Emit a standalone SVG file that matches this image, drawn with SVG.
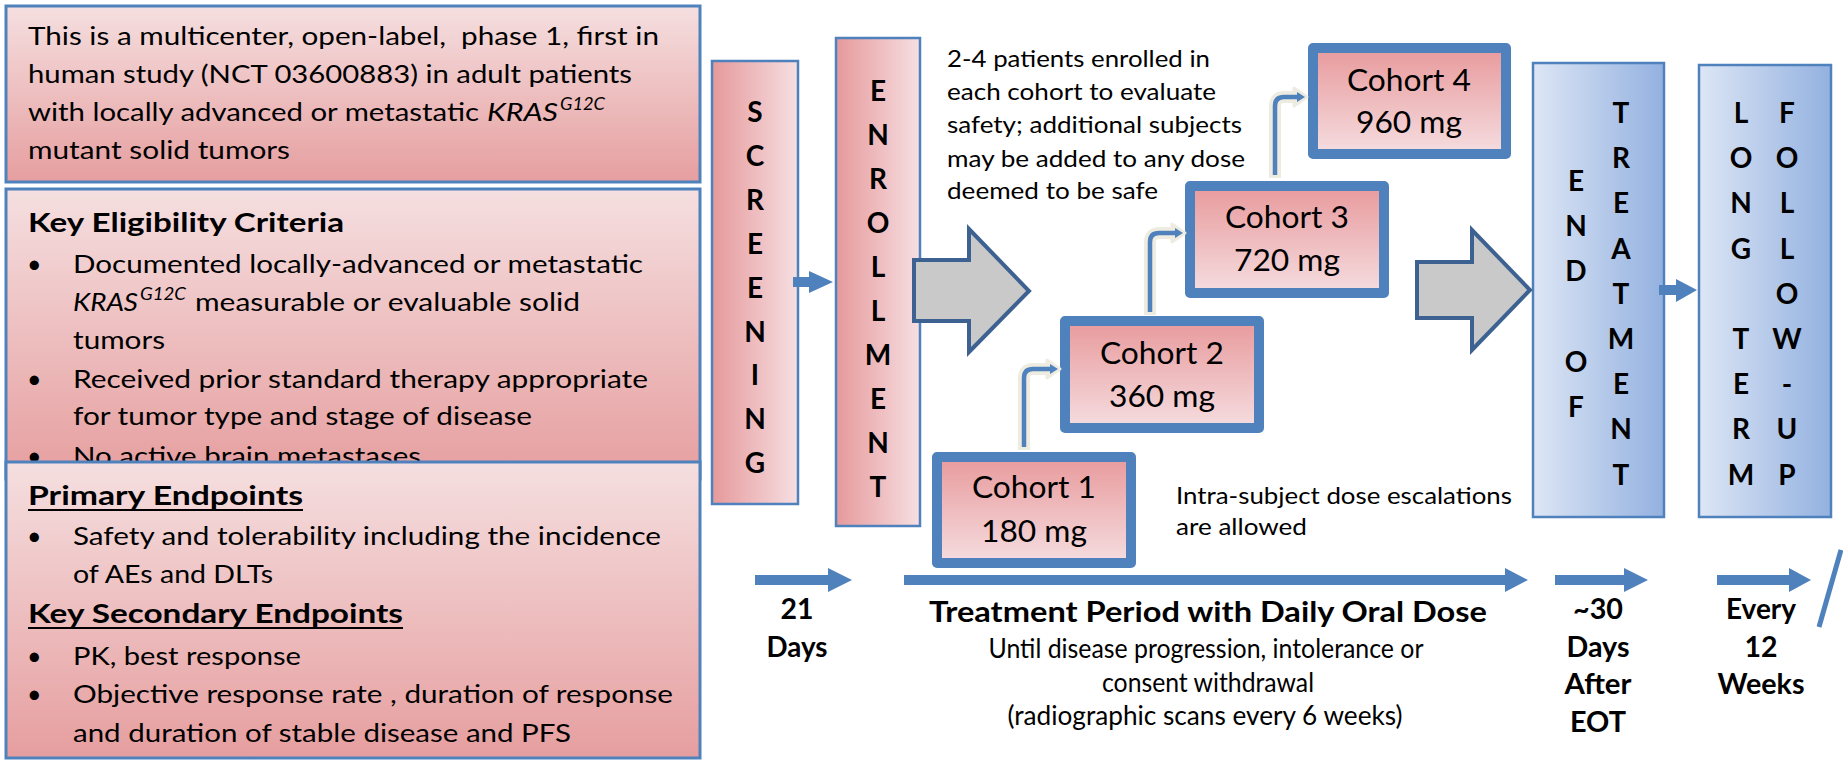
<svg xmlns="http://www.w3.org/2000/svg" width="1843" height="761" viewBox="0 0 1843 761">
<defs>
<linearGradient id="gPinkV" x1="0" y1="0" x2="0" y2="1"><stop offset="0" stop-color="#f5dfe0"/><stop offset="1" stop-color="#e69e9f"/></linearGradient>
<linearGradient id="gPinkVr" x1="0" y1="0" x2="0" y2="1"><stop offset="0" stop-color="#e89a9c"/><stop offset="1" stop-color="#f5dde0"/></linearGradient>
<linearGradient id="gPinkH" x1="0" y1="0" x2="1" y2="0"><stop offset="0" stop-color="#e6999b"/><stop offset="1" stop-color="#f6dfe2"/></linearGradient>
<linearGradient id="gBlueH" x1="0" y1="0" x2="1" y2="0"><stop offset="0" stop-color="#dde6f5"/><stop offset="1" stop-color="#93b1e0"/></linearGradient>
</defs>
<style>
.t{font-family:Lato,"Open Sans","Liberation Sans",sans-serif;fill:#000}
.r{font-size:25px}
.rs{font-size:24px}
.b{font-weight:700}
.h{font-size:27px;font-weight:700}
.hb{font-size:29px;font-weight:700;text-anchor:middle}
.lt{font-size:28px;font-weight:700;text-anchor:middle}
.mid{text-anchor:middle}
.box{stroke:#4f81bd;stroke-width:3}
.col{stroke:#4f81bd;stroke-width:2.5}
.coh{fill:url(#gPinkVr);stroke:#4f81bd;stroke-width:10;stroke-linejoin:round}
.ct{font-size:30px;text-anchor:middle}
.gray{fill:#c9c9c9;stroke:#3d6291;stroke-width:4;stroke-linejoin:miter}
.blue{fill:#4f81bd}
.halo{fill:none;stroke:#eeece1;stroke-width:12}
.haloh{fill:#eeece1;stroke:#eeece1;stroke-width:3;stroke-linejoin:round}
.bl{fill:none;stroke:#4f81bd;stroke-width:4.5}
.ul{stroke:#000;stroke-width:2}
.sup{font-size:18px;font-style:italic}
.it{font-style:italic}
</style>

<g id="box-intro">
<rect x="6" y="6" width="694" height="176" fill="url(#gPinkV)" class="box"/>
<text class="t r" x="28" y="45" textLength="631" lengthAdjust="spacingAndGlyphs">This is a multicenter, open-label,&#160; phase 1, first in</text>
<text class="t r" x="28" y="83" textLength="604" lengthAdjust="spacingAndGlyphs">human study (NCT 03600883) in adult patients</text>
<text class="t r" x="28" y="121" textLength="451" lengthAdjust="spacingAndGlyphs">with locally advanced or metastatic</text>
<text class="t r it" x="487" y="121" textLength="71" lengthAdjust="spacingAndGlyphs">KRAS</text>
<text class="t sup" x="560" y="110" textLength="45" lengthAdjust="spacingAndGlyphs">G12C</text>
<text class="t r" x="28" y="159" textLength="262" lengthAdjust="spacingAndGlyphs">mutant solid tumors</text>
</g>

<g id="box-eligibility">
<rect x="6" y="189" width="694" height="290" fill="url(#gPinkV)" class="box"/>
<text class="t h" x="28" y="232" textLength="316" lengthAdjust="spacingAndGlyphs">Key Eligibility Criteria</text>
<text class="t r" x="27" y="273">•</text>
<text class="t r" x="73" y="273" textLength="570" lengthAdjust="spacingAndGlyphs">Documented locally-advanced or metastatic</text>
<text class="t r it" x="73" y="311" textLength="65" lengthAdjust="spacingAndGlyphs">KRAS</text>
<text class="t sup" x="140" y="300" textLength="46" lengthAdjust="spacingAndGlyphs">G12C</text>
<text class="t r" x="195" y="311" textLength="385" lengthAdjust="spacingAndGlyphs">measurable or evaluable solid</text>
<text class="t r" x="73" y="349" textLength="92" lengthAdjust="spacingAndGlyphs">tumors</text>
<text class="t r" x="27" y="388">•</text>
<text class="t r" x="73" y="388" textLength="575" lengthAdjust="spacingAndGlyphs">Received prior standard therapy appropriate</text>
<text class="t r" x="73" y="425" textLength="459" lengthAdjust="spacingAndGlyphs">for tumor type and stage of disease</text>
<text class="t r" x="27" y="465">•</text>
<text class="t r" x="73" y="465" textLength="348" lengthAdjust="spacingAndGlyphs">No active brain metastases</text>
</g>

<g id="box-endpoints">
<rect x="6" y="462" width="694" height="296" fill="url(#gPinkV)" class="box"/>
<text class="t h" x="28" y="505" textLength="275" lengthAdjust="spacingAndGlyphs">Primary Endpoints</text>
<line x1="28" y1="510" x2="303" y2="510" class="ul"/>
<text class="t r" x="27" y="545">•</text>
<text class="t r" x="73" y="545" textLength="588" lengthAdjust="spacingAndGlyphs">Safety and tolerability including the incidence</text>
<text class="t r" x="73" y="583" textLength="200" lengthAdjust="spacingAndGlyphs">of AEs and DLTs</text>
<text class="t h" x="28" y="623" textLength="375" lengthAdjust="spacingAndGlyphs">Key Secondary Endpoints</text>
<line x1="28" y1="628" x2="403" y2="628" class="ul"/>
<text class="t r" x="27" y="665">•</text>
<text class="t r" x="73" y="665" textLength="228" lengthAdjust="spacingAndGlyphs">PK, best response</text>
<text class="t r" x="27" y="703">•</text>
<text class="t r" x="73" y="703" textLength="600" lengthAdjust="spacingAndGlyphs">Objective response rate , duration of response</text>
<text class="t r" x="73" y="742" textLength="498" lengthAdjust="spacingAndGlyphs">and duration of stable disease and PFS</text>
</g>

<g id="screening">
<rect x="712" y="61" width="86" height="443" fill="url(#gPinkH)" class="col"/>
<text class="t lt" x="755" y="122">S</text>
<text class="t lt" x="755" y="166">C</text>
<text class="t lt" x="755" y="210">R</text>
<text class="t lt" x="755" y="254">E</text>
<text class="t lt" x="755" y="298">E</text>
<text class="t lt" x="755" y="342">N</text>
<text class="t lt" x="755" y="385">I</text>
<text class="t lt" x="755" y="429">N</text>
<text class="t lt" x="755" y="473">G</text>
</g>

<g id="enrollment">
<rect x="836" y="38" width="84" height="488" fill="url(#gPinkH)" class="col"/>
<text class="t lt" x="878" y="101">E</text>
<text class="t lt" x="878" y="145">N</text>
<text class="t lt" x="878" y="189">R</text>
<text class="t lt" x="878" y="233">O</text>
<text class="t lt" x="878" y="277">L</text>
<text class="t lt" x="878" y="321">L</text>
<text class="t lt" x="878" y="365">M</text>
<text class="t lt" x="878" y="409">E</text>
<text class="t lt" x="878" y="453">N</text>
<text class="t lt" x="878" y="497">T</text>
</g>

<g id="cohort1">
<rect x="937" y="457" width="194" height="106" class="coh"/>
<text class="t ct" x="1034" y="498" textLength="124" lengthAdjust="spacingAndGlyphs">Cohort 1</text>
<text class="t ct" x="1034" y="542" textLength="106" lengthAdjust="spacingAndGlyphs">180 mg</text>
</g>
<g id="cohort2">
<rect x="1065" y="321" width="194" height="107" class="coh"/>
<text class="t ct" x="1162" y="364" textLength="124" lengthAdjust="spacingAndGlyphs">Cohort 2</text>
<text class="t ct" x="1162" y="407" textLength="106" lengthAdjust="spacingAndGlyphs">360 mg</text>
</g>
<g id="cohort3">
<rect x="1190" y="186" width="194" height="107" class="coh"/>
<text class="t ct" x="1287" y="228" textLength="124" lengthAdjust="spacingAndGlyphs">Cohort 3</text>
<text class="t ct" x="1287" y="271" textLength="106" lengthAdjust="spacingAndGlyphs">720 mg</text>
</g>
<g id="cohort4">
<rect x="1313" y="48" width="193" height="106" class="coh"/>
<text class="t ct" x="1409" y="91" textLength="124" lengthAdjust="spacingAndGlyphs">Cohort 4</text>
<text class="t ct" x="1409" y="133" textLength="106" lengthAdjust="spacingAndGlyphs">960 mg</text>
</g>

<g id="end-of-treatment">
<rect x="1533" y="63" width="131" height="454" fill="url(#gBlueH)" class="col"/>
<text class="t lt" x="1576" y="191">E</text>
<text class="t lt" x="1576" y="236">N</text>
<text class="t lt" x="1576" y="281">D</text>
<text class="t lt" x="1576" y="372">O</text>
<text class="t lt" x="1576" y="417">F</text>
<text class="t lt" x="1621" y="123">T</text>
<text class="t lt" x="1621" y="168">R</text>
<text class="t lt" x="1621" y="213">E</text>
<text class="t lt" x="1621" y="259">A</text>
<text class="t lt" x="1621" y="304">T</text>
<text class="t lt" x="1621" y="349">M</text>
<text class="t lt" x="1621" y="394">E</text>
<text class="t lt" x="1621" y="439">N</text>
<text class="t lt" x="1621" y="485">T</text>
</g>

<g id="long-term-follow-up">
<rect x="1699" y="65" width="132" height="452" fill="url(#gBlueH)" class="col"/>
<text class="t lt" x="1741" y="123">L</text>
<text class="t lt" x="1741" y="168">O</text>
<text class="t lt" x="1741" y="213">N</text>
<text class="t lt" x="1741" y="259">G</text>
<text class="t lt" x="1741" y="349">T</text>
<text class="t lt" x="1741" y="394">E</text>
<text class="t lt" x="1741" y="439">R</text>
<text class="t lt" x="1741" y="485">M</text>
<text class="t lt" x="1787" y="123">F</text>
<text class="t lt" x="1787" y="168">O</text>
<text class="t lt" x="1787" y="213">L</text>
<text class="t lt" x="1787" y="259">L</text>
<text class="t lt" x="1787" y="304">O</text>
<text class="t lt" x="1787" y="349">W</text>
<text class="t lt" x="1787" y="394">-</text>
<text class="t lt" x="1787" y="439">U</text>
<text class="t lt" x="1787" y="485">P</text>
</g>

<g id="connectors">
<polygon class="blue" points="793,277 809,277 809,271 833,282 809,293 809,287 793,287"/>
<polygon class="gray" points="914,260 969,260 969,229 1029,291 969,352 969,321 914,321"/>
<polygon class="gray" points="1417,262 1472,262 1472,230 1530,290 1472,350 1472,318 1417,318"/>
<polygon class="blue" points="1659,285 1676,285 1676,279 1697,290 1676,302 1676,295 1659,295"/>

<path class="halo" d="M1024,450 V378 Q1024,369 1033,369 H1050"/>
<polygon class="haloh" points="1047,360 1060,369 1047,378"/>
<path class="bl" d="M1024,447 V378 Q1024,369 1033,369 H1052"/>
<polygon class="blue" points="1050,364 1058,369 1050,374"/>

<path class="halo" d="M1150,315 V242 Q1150,233 1159,233 H1175"/>
<polygon class="haloh" points="1172,224 1185,233 1172,242"/>
<path class="bl" d="M1150,312 V242 Q1150,233 1159,233 H1177"/>
<polygon class="blue" points="1175,228 1183,233 1175,238"/>

<path class="halo" d="M1275,178 V106 Q1275,97 1284,97 H1297"/>
<polygon class="haloh" points="1294,88 1307,97 1294,106"/>
<path class="bl" d="M1275,175 V106 Q1275,97 1284,97 H1299"/>
<polygon class="blue" points="1297,92 1305,97 1297,102"/>

<polygon class="blue" points="755,575 828,575 828,568 852,580 828,592 828,585 755,585"/>
<polygon class="blue" points="904,575 1505,575 1505,568 1528,580 1505,592 1505,585 904,585"/>
<polygon class="blue" points="1555,575 1624,575 1624,568 1648,580 1624,592 1624,585 1555,585"/>
<polygon class="blue" points="1717,575 1789,575 1789,568 1811,580 1789,592 1789,585 1717,585"/>
<line x1="1841" y1="550" x2="1819" y2="627" stroke="#4f81bd" stroke-width="5"/>
</g>

<g id="notes">
<text class="t rs" x="947" y="67" textLength="263" lengthAdjust="spacingAndGlyphs">2-4 patients enrolled in</text>
<text class="t rs" x="947" y="100" textLength="269" lengthAdjust="spacingAndGlyphs">each cohort to evaluate</text>
<text class="t rs" x="947" y="133" textLength="295" lengthAdjust="spacingAndGlyphs">safety; additional subjects</text>
<text class="t rs" x="947" y="167" textLength="298" lengthAdjust="spacingAndGlyphs">may be added to any dose</text>
<text class="t rs" x="947" y="199" textLength="211" lengthAdjust="spacingAndGlyphs">deemed to be safe</text>
<text class="t rs" x="1176" y="504" textLength="336" lengthAdjust="spacingAndGlyphs">Intra-subject dose escalations</text>
<text class="t rs" x="1176" y="535" textLength="131" lengthAdjust="spacingAndGlyphs">are allowed</text>
</g>

<g id="timeline-labels">
<text class="t hb" x="797" y="619" textLength="33" lengthAdjust="spacingAndGlyphs">21</text>
<text class="t hb" x="797" y="657" textLength="61" lengthAdjust="spacingAndGlyphs">Days</text>
<text class="t hb" font-size="31" x="1208" y="622" textLength="558" lengthAdjust="spacingAndGlyphs">Treatment Period with Daily Oral Dose</text>
<text class="t mid" font-size="26" x="1206" y="658" textLength="435" lengthAdjust="spacingAndGlyphs">Until disease progression, intolerance or</text>
<text class="t mid" font-size="26" x="1208" y="692" textLength="212" lengthAdjust="spacingAndGlyphs">consent withdrawal</text>
<text class="t mid" font-size="26" x="1205" y="725" textLength="395" lengthAdjust="spacingAndGlyphs">(radiographic scans every 6 weeks)</text>
<text class="t hb" x="1598" y="619" textLength="50" lengthAdjust="spacingAndGlyphs">~30</text>
<text class="t hb" x="1598" y="657" textLength="63" lengthAdjust="spacingAndGlyphs">Days</text>
<text class="t hb" x="1598" y="694" textLength="67" lengthAdjust="spacingAndGlyphs">After</text>
<text class="t hb" x="1598" y="732" textLength="56" lengthAdjust="spacingAndGlyphs">EOT</text>
<text class="t hb" x="1761" y="619" textLength="70" lengthAdjust="spacingAndGlyphs">Every</text>
<text class="t hb" x="1761" y="657" textLength="33" lengthAdjust="spacingAndGlyphs">12</text>
<text class="t hb" x="1761" y="694" textLength="87" lengthAdjust="spacingAndGlyphs">Weeks</text>
</g>
</svg>
